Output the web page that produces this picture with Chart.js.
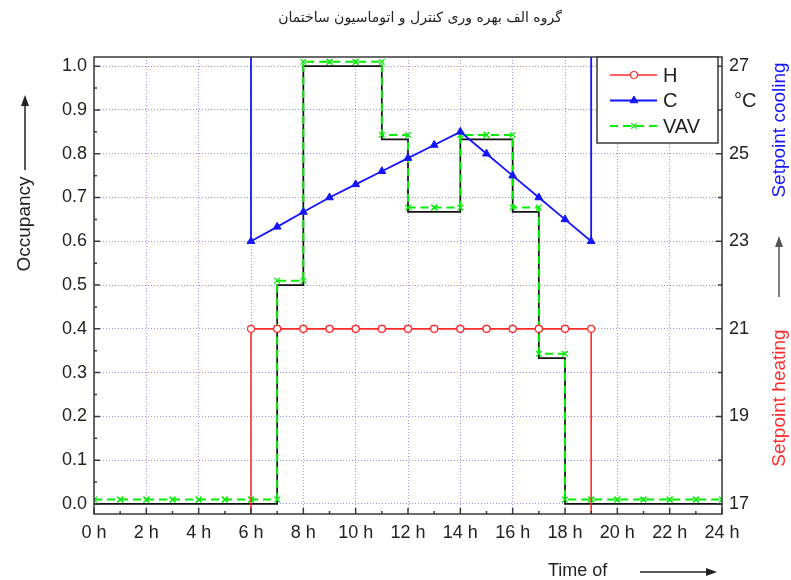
<!DOCTYPE html>
<html>
<head>
<meta charset="utf-8">
<title>Setpoints</title>
<script src="https://cdn.jsdelivr.net/npm/chart.js@4/dist/chart.umd.min.js"></script>
<style>
    body { margin: 0; background: #fff; }
    canvas { display: block; }
</style>
</head>
<body>
<canvas id="chartSetpoints" width="791" height="580"></canvas>
<script>
// hourly values, index = hour the interval starts at (0..23)
const occupancy = [0, 0, 0, 0, 0, 0, 0, 0.5, 1, 1, 1, 0.833, 0.667, 0.667, 0.833, 0.833, 0.667, 0.333, 0, 0, 0, 0, 0, 0];
const vavFlow = [0.01, 0.01, 0.01, 0.01, 0.01, 0.01, 0.01, 0.51, 1.01, 1.01, 1.01, 0.843, 0.677, 0.677, 0.843, 0.843, 0.677, 0.343, 0.01, 0.01, 0.01, 0.01, 0.01, 0.01];
const heatingSetpoint = [15, 15, 15, 15, 15, 15, 21, 21, 21, 21, 21, 21, 21, 21, 21, 21, 21, 21, 21, 15, 15, 15, 15, 15];

// cooling setpoint is given per hour while the building is in use
const coolHours = [6, 7, 8, 9, 10, 11, 12, 13, 14, 15, 16, 17, 18, 19];
const coolingSetpoint = [23.0, 23.33, 23.67, 24.0, 24.3, 24.6, 24.9, 25.2, 25.5, 25.0, 24.5, 24.0, 23.5, 23.0];
const coolingSetback = 30;

// axes
const occTicks = [0, 0.1, 0.2, 0.3, 0.4, 0.5, 0.6, 0.7, 0.8, 0.9, 1.0];
const hourTicks = [0, 2, 4, 6, 8, 10, 12, 14, 16, 18, 20, 22, 24];
const tempTicks = [17, 18, 19, 20, 21, 22, 23, 24, 25, 26, 27];
const tempLabels = { 17: '17', 19: '19', 21: '21', 23: '23', 25: '25', 27: '27' };
const occMin = -0.023;
const occMax = 1.021;

const chartTitle = 'گروه الف بهره وری کنترل و اتوماسیون ساختمان';

const RED = '#ff2b2b';
const BLUE = '#1414ff';
const GREEN = '#00ee00';

function stepPoints(values) {
    const pts = [];
    values.forEach((v, h) => {
        pts.push({ x: h, y: v });
        pts.push({ x: h + 1, y: v });
    });
    return pts;
}

const coolingData = [{ x: coolHours[0], y: coolingSetback }]
    .concat(coolHours.map((h, i) => ({ x: h, y: coolingSetpoint[i] })))
    .concat([{ x: coolHours[coolHours.length - 1], y: coolingSetback }]);

function arrow(ctx, x1, y1, x2, y2, color) {
    const a = Math.atan2(y2 - y1, x2 - x1);
    ctx.save();
    ctx.strokeStyle = color;
    ctx.fillStyle = color;
    ctx.lineWidth = 1.5;
    ctx.beginPath();
    ctx.moveTo(x1, y1);
    ctx.lineTo(x2 - 6 * Math.cos(a), y2 - 6 * Math.sin(a));
    ctx.stroke();
    ctx.beginPath();
    ctx.moveTo(x2, y2);
    ctx.lineTo(x2 - 11 * Math.cos(a) + 4 * Math.sin(a), y2 - 11 * Math.sin(a) - 4 * Math.cos(a));
    ctx.lineTo(x2 - 11 * Math.cos(a) - 4 * Math.sin(a), y2 - 11 * Math.sin(a) + 4 * Math.cos(a));
    ctx.closePath();
    ctx.fill();
    ctx.restore();
}

function vText(ctx, text, x, y, color, size) {
    ctx.save();
    ctx.translate(x, y);
    ctx.rotate(-Math.PI / 2);
    ctx.fillStyle = color;
    ctx.font = size + 'px "Liberation Sans", Arial, sans-serif';
    ctx.textAlign = 'center';
    ctx.textBaseline = 'middle';
    ctx.fillText(text, 0, 0);
    ctx.restore();
}

// frame, inward ticks, legend box and the side captions
const decorPlugin = {
    id: 'decor',
    beforeDraw(chart) {
        const ctx = chart.ctx;
        ctx.save();
        ctx.fillStyle = '#ffffff';
        ctx.fillRect(0, 0, chart.width, chart.height);
        ctx.restore();
    },
    afterDraw(chart) {
        const ctx = chart.ctx;
        const area = chart.chartArea;
        const sx = chart.scales.x;
        const sy = chart.scales.y;
        const st = chart.scales.y1;

        ctx.save();
        ctx.strokeStyle = '#3a3a3a';
        ctx.lineWidth = 1.5;
        ctx.beginPath();

        hourTicks.forEach((h, i) => {
            const x = sx.getPixelForValue(h);
            ctx.moveTo(x, area.bottom);
            ctx.lineTo(x, area.bottom - 6);
            if (i < hourTicks.length - 1) {
                const xm = sx.getPixelForValue((h + hourTicks[i + 1]) / 2);
                ctx.moveTo(xm, area.bottom);
                ctx.lineTo(xm, area.bottom - 3);
            }
        });
        occTicks.forEach((v, i) => {
            const y = sy.getPixelForValue(v);
            ctx.moveTo(area.left, y);
            ctx.lineTo(area.left + 6, y);
            if (i < occTicks.length - 1) {
                const ym = sy.getPixelForValue((v + occTicks[i + 1]) / 2);
                ctx.moveTo(area.left, ym);
                ctx.lineTo(area.left + 3, ym);
            }
        });
        tempTicks.forEach(t => {
            const y = st.getPixelForValue(t);
            const len = tempLabels[t] ? 6 : 4;
            ctx.moveTo(area.right, y);
            ctx.lineTo(area.right - len, y);
        });
        ctx.stroke();
        ctx.strokeRect(area.left, area.top, area.right - area.left, area.bottom - area.top);

        // unit of the right axis, sits between 25 and 27
        ctx.fillStyle = '#222';
        ctx.font = '20px "Liberation Sans", Arial, sans-serif';
        ctx.textAlign = 'left';
        ctx.textBaseline = 'middle';
        ctx.fillText('°C', area.right + 12, st.getPixelForValue(26.2));

        // legend
        const lx = 597, ly = area.top, lw = 121, lh = 86;
        ctx.fillStyle = '#ffffff';
        ctx.fillRect(lx, ly, lw, lh);
        ctx.strokeRect(lx, ly, lw, lh);
        const entries = chart.data.datasets.filter(d => d.label);
        entries.forEach((ds, i) => {
            const y = ly + 18 + i * 25.5;
            ctx.save();
            ctx.strokeStyle = ds.borderColor;
            ctx.lineWidth = ds.borderWidth;
            ctx.setLineDash(ds.borderDash || []);
            ctx.beginPath();
            ctx.moveTo(lx + 13, y);
            ctx.lineTo(lx + 60, y);
            ctx.stroke();
            ctx.setLineDash([]);
            ctx.fillStyle = ds.pointBackgroundColor;
            ctx.strokeStyle = ds.pointBorderColor;
            ctx.lineWidth = ds.pointBorderWidth;
            Chart.helpers.drawPoint(ctx, {
                pointStyle: ds.pointStyle,
                radius: ds.pointRadius,
                rotation: 0,
                borderWidth: ds.pointBorderWidth
            }, lx + 37, y);
            ctx.restore();
            ctx.fillStyle = '#222';
            ctx.font = '20px "Liberation Sans", Arial, sans-serif';
            ctx.textAlign = 'left';
            ctx.textBaseline = 'middle';
            ctx.fillText(ds.label, lx + 66, y + 1);
        });
        ctx.restore();

        // title
        ctx.save();
        ctx.fillStyle = '#222';
        ctx.font = '14px "DejaVu Sans", sans-serif';
        ctx.textAlign = 'center';
        ctx.textBaseline = 'middle';
        ctx.fillText(chartTitle, 420, 18);
        ctx.restore();

        // axis captions
        vText(ctx, 'Occupancy', 25, 224, '#222', 19);
        arrow(ctx, 25, 170, 25, 95, '#222');

        vText(ctx, 'Setpoint cooling', 780, 130, BLUE, 19);
        arrow(ctx, 779, 297, 779, 236, '#555');
        vText(ctx, 'Setpoint heating', 780, 398, RED, 19);

        ctx.save();
        ctx.fillStyle = '#222';
        ctx.font = '18px "Liberation Sans", Arial, sans-serif';
        ctx.textAlign = 'left';
        ctx.textBaseline = 'middle';
        ctx.fillText('Time of', 548, 571);
        ctx.restore();
        arrow(ctx, 640, 572, 717, 572, '#222');
    }
};

Chart.defaults.font.family = '"Liberation Sans", Arial, sans-serif';
Chart.defaults.color = '#222';

const gridStyle = {
    color: 'rgba(80, 80, 245, 0.6)',
    lineWidth: 1,
    drawTicks: false
};

const chartSetpoints = new Chart(document.getElementById('chartSetpoints'), {
    type: 'line',
    data: {
        datasets: [
            {
                label: 'H',
                data: stepPoints(heatingSetpoint),
                yAxisID: 'y1',
                borderColor: RED,
                borderWidth: 1.6,
                pointStyle: 'circle',
                pointRadius: 3.5,
                pointBackgroundColor: '#ffffff',
                pointBorderColor: RED,
                pointBorderWidth: 1.2
            },
            {
                label: 'C',
                data: coolingData,
                yAxisID: 'y1',
                borderColor: BLUE,
                borderWidth: 1.8,
                pointStyle: 'triangle',
                pointRadius: 4.5,
                pointBackgroundColor: BLUE,
                pointBorderColor: BLUE,
                pointBorderWidth: 1
            },
            {
                label: 'VAV',
                data: stepPoints(vavFlow),
                yAxisID: 'y',
                borderColor: GREEN,
                borderWidth: 2,
                borderDash: [8, 5],
                pointStyle: 'crossRot',
                pointRadius: 4,
                pointBackgroundColor: GREEN,
                pointBorderColor: GREEN,
                pointBorderWidth: 1.2
            },
            {
                label: '',
                data: stepPoints(occupancy),
                yAxisID: 'y',
                borderColor: '#111',
                borderWidth: 1.7,
                pointRadius: 0
            }
        ]
    },
    options: {
        responsive: false,
        devicePixelRatio: 1,
        animation: false,
        events: [],
        layout: { padding: { top: 57, left: 0, right: 0, bottom: 0 } },
        plugins: {
            legend: { display: false },
            title: { display: false },
            tooltip: { enabled: false }
        },
        scales: {
            x: {
                type: 'linear',
                min: 0,
                max: 24,
                afterBuildTicks: scale => { scale.ticks = hourTicks.map(v => ({ value: v })); },
                afterFit: scale => { scale.height = 66; },
                grid: gridStyle,
                border: { display: false, dash: [1, 2] },
                ticks: {
                    padding: 8,
                    maxRotation: 0,
                    autoSkip: false,
                    font: { size: 18 },
                    callback: v => v + ' h'
                }
            },
            y: {
                position: 'left',
                min: occMin,
                max: occMax,
                afterBuildTicks: scale => { scale.ticks = occTicks.map(v => ({ value: v })); },
                afterFit: scale => { scale.width = 94; },
                grid: gridStyle,
                border: { display: false, dash: [1, 2] },
                ticks: {
                    padding: 7,
                    autoSkip: false,
                    font: { size: 18 },
                    callback: v => v.toFixed(1)
                }
            },
            y1: {
                position: 'right',
                min: 17 + 10 * occMin,
                max: 17 + 10 * occMax,
                afterBuildTicks: scale => { scale.ticks = tempTicks.map(v => ({ value: v })); },
                afterFit: scale => { scale.width = 69; },
                grid: { display: false, drawTicks: false },
                border: { display: false },
                ticks: {
                    padding: 7,
                    autoSkip: false,
                    font: { size: 18 },
                    callback: v => tempLabels[v] || ''
                }
            }
        }
    },
    plugins: [decorPlugin]
});
</script>
</body>
</html>
